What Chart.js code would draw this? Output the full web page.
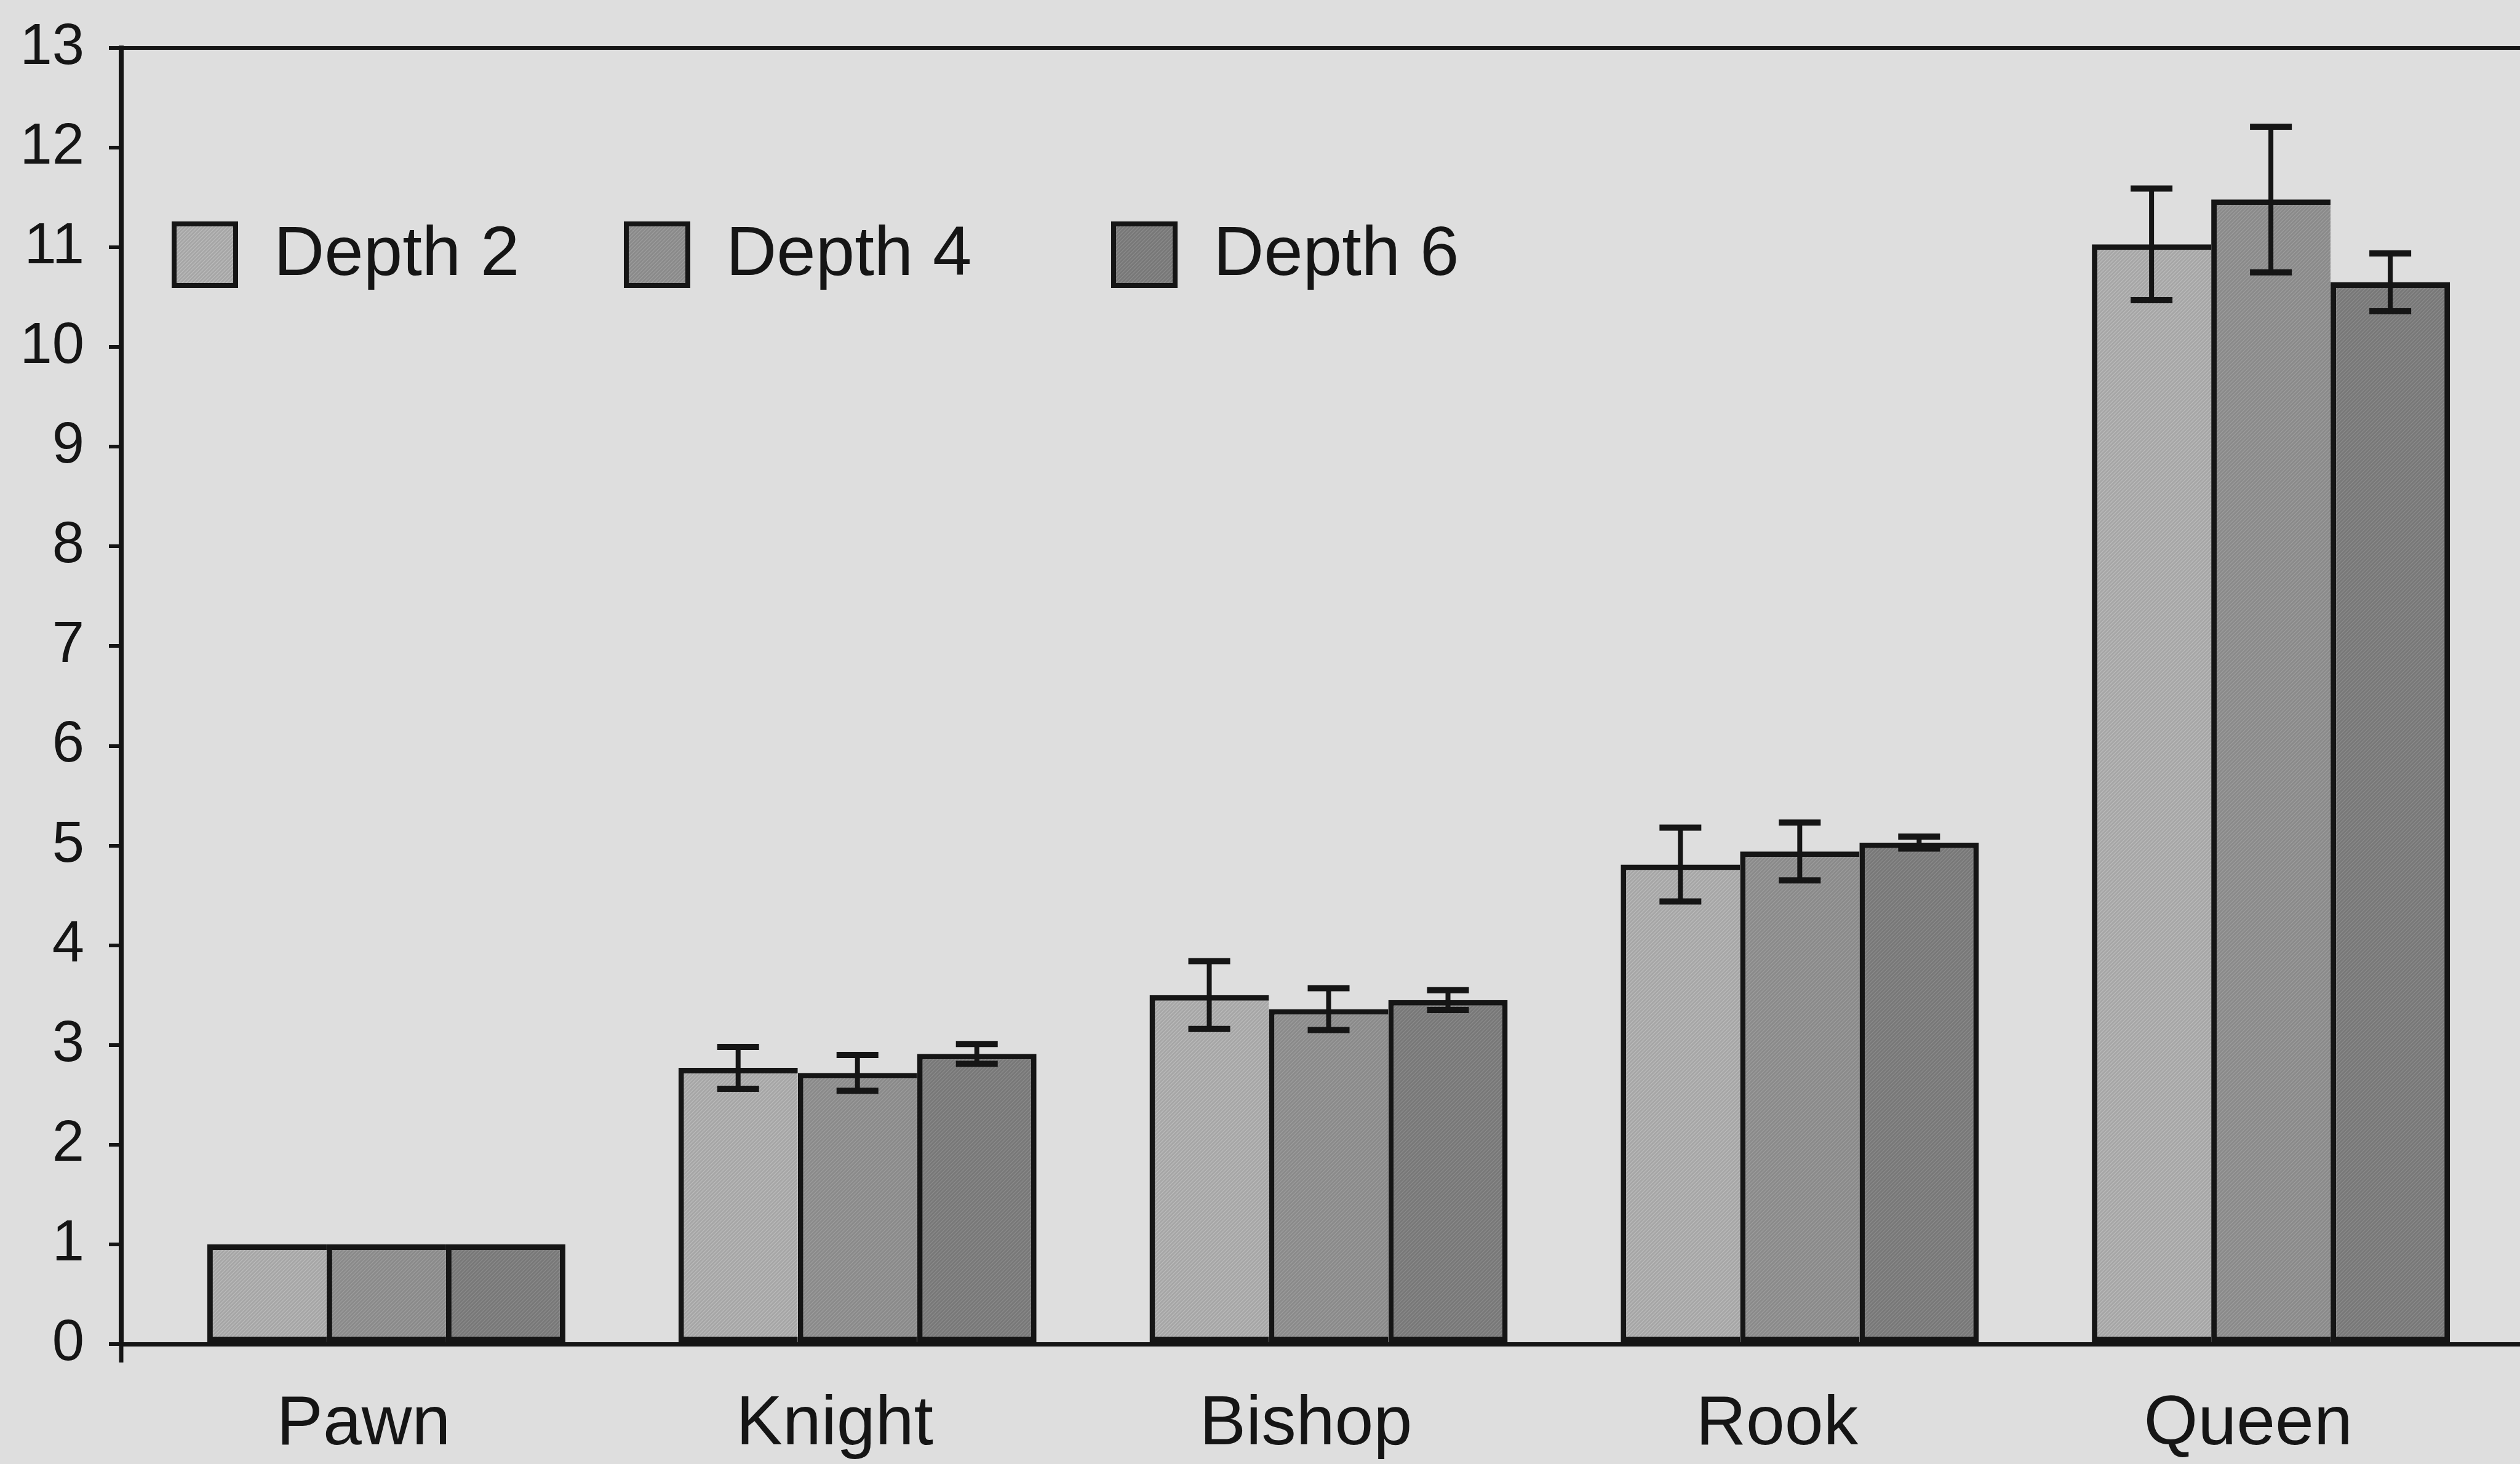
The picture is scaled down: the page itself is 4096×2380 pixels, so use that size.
<!DOCTYPE html>
<html>
<head>
<meta charset="utf-8">
<title>Piece values by search depth</title>
<script src="https://cdn.jsdelivr.net/npm/chart.js@4/dist/chart.umd.min.js"></script>
<style>
  html, body { margin: 0; padding: 0; background: #dedede; }
  #wrap { width: 4096px; height: 2380px; }
  canvas { display: block; }
</style>
</head>
<body>
<div id="wrap"><canvas id="chart" width="4096" height="2380"></canvas></div>
<script>
// Categories and series
const pieces = ['Pawn', 'Knight', 'Bishop', 'Rook', 'Queen'];
const seriesNames = ['Depth 2', 'Depth 4', 'Depth 6'];

// Mean learned value of each piece (pawn = 1)
const depth2 = [1, 2.77, 3.50, 4.81, 11.03];
const depth4 = [1, 2.72, 3.36, 4.94, 11.48];
const depth6 = [1, 2.91, 3.45, 5.03, 10.65];

// Half-width of the error bars
const depth2Err = [0, 0.21, 0.34, 0.37, 0.56];
const depth4Err = [0, 0.18, 0.21, 0.29, 0.73];
const depth6Err = [0, 0.10, 0.10, 0.06, 0.29];

// Value axis ticks
const yTicks = [0, 1, 2, 3, 4, 5, 6, 7, 8, 9, 10, 11, 12, 13];

const FONT = '"Liberation Sans", Arial, Helvetica, sans-serif';
const INK = '#151515';

// Fine diagonal hatch used as bar fill
function hatch(base, stripe) {
  const s = 6;
  const c = document.createElement('canvas');
  c.width = s; c.height = s;
  const g = c.getContext('2d');
  g.fillStyle = base;
  g.fillRect(0, 0, s, s);
  g.strokeStyle = stripe;
  g.lineWidth = 1.3;
  g.beginPath();
  g.moveTo(-1, s + 1); g.lineTo(s + 1, -1);
  g.moveTo(-1, 1); g.lineTo(1, -1);
  g.moveTo(s - 1, s + 1); g.lineTo(s + 1, s - 1);
  g.stroke();
  return g.createPattern(c, 'repeat');
}

const fills = [
  hatch('#a6a6a6', '#bbbbbb'),
  hatch('#8a8a8a', '#9d9d9d'),
  hatch('#787878', '#8b8b8b')
];
const seriesValues = [depth2, depth4, depth6];
const seriesErrors = [depth2Err, depth4Err, depth6Err];

// Error bars: stem plus caps, computed through the value scale
const errorBars = {
  id: 'errorBars',
  afterDatasetsDraw(chart, args, opts) {
    const ctx = chart.ctx;
    const y = chart.scales.y;
    ctx.save();
    ctx.strokeStyle = opts.color;
    ctx.lineWidth = opts.width;
    chart.data.datasets.forEach((ds, k) => {
      const meta = chart.getDatasetMeta(k);
      meta.data.forEach((bar, i) => {
        const e = ds.errors[i];
        if (!e) return;
        const v = ds.data[i].y;
        const top = y.getPixelForValue(v + e);
        const bot = y.getPixelForValue(v - e);
        const x = bar.x, h = opts.cap / 2;
        ctx.beginPath();
        ctx.moveTo(x, top); ctx.lineTo(x, bot);
        ctx.stroke();
        ctx.lineWidth = opts.capWidth;
        ctx.beginPath();
        ctx.moveTo(x - h, top); ctx.lineTo(x + h, top);
        ctx.moveTo(x - h, bot); ctx.lineTo(x + h, bot);
        ctx.stroke();
        ctx.lineWidth = opts.width;
      });
    });
    ctx.restore();
  }
};

// Top frame line and the short stub of the value axis below the baseline
const frame = {
  id: 'frame',
  afterDraw(chart, args, opts) {
    const { ctx, chartArea } = chart;
    ctx.save();
    ctx.strokeStyle = opts.color;
    ctx.lineWidth = opts.width;
    ctx.beginPath();
    ctx.moveTo(chartArea.left - opts.tick, chartArea.top);
    ctx.lineTo(chartArea.right, chartArea.top);
    ctx.stroke();
    ctx.lineWidth = opts.stubWidth;
    ctx.beginPath();
    ctx.moveTo(chartArea.left, chartArea.bottom);
    ctx.lineTo(chartArea.left, chartArea.bottom + opts.stub);
    ctx.stroke();
    ctx.restore();
  }
};

// Legend row inside the plot
const pieceLegend = {
  id: 'pieceLegend',
  afterDraw(chart, args, opts) {
    const ctx = chart.ctx;
    ctx.save();
    ctx.font = opts.fontSize + 'px ' + FONT;
    ctx.textBaseline = 'middle';
    ctx.textAlign = 'left';
    chart.data.datasets.forEach((ds, k) => {
      const x = opts.lefts[k];
      const top = opts.centerY - opts.box / 2;
      ctx.fillStyle = ds.backgroundColor;
      ctx.fillRect(x, top, opts.box, opts.box);
      ctx.strokeStyle = INK;
      ctx.lineWidth = opts.border;
      ctx.strokeRect(x + opts.border / 2, top + opts.border / 2,
                     opts.box - opts.border, opts.box - opts.border);
      ctx.fillStyle = INK;
      ctx.fillText(ds.label, x + opts.box + opts.gap, opts.centerY + 2);
    });
    ctx.restore();
  }
};

new Chart(document.getElementById('chart'), {
  type: 'bar',
  data: {
    datasets: seriesNames.map((name, k) => ({
      label: name,
      data: seriesValues[k].map((v, i) => ({ x: i, y: v })),
      errors: seriesErrors[k],
      backgroundColor: fills[k],
      borderColor: INK,
      borderWidth: k === seriesNames.length - 1 ? 9 : { top: 9, left: 9, bottom: 9, right: 0 },
      borderSkipped: false,
      categoryPercentage: 0.76,
      barPercentage: 1.0
    }))
  },
  options: {
    responsive: false,
    animation: false,
    devicePixelRatio: 1,
    layout: { padding: { top: 78, left: 0, right: 0, bottom: 0 } },
    plugins: {
      legend: { display: false },
      tooltip: { enabled: false },
      errorBars: { color: INK, width: 8, capWidth: 10, cap: 68 },
      frame: { color: INK, width: 6, tick: 20, stub: 30, stubWidth: 7 },
      pieceLegend: { lefts: [279, 1014, 1806], centerY: 414, box: 108, gap: 58, border: 8, fontSize: 114 }
    },
    scales: {
      x: {
        type: 'linear',
        min: -0.5627,
        max: 4.5287,
        offset: false,
        afterBuildTicks: s => { s.ticks = pieces.map((_, i) => ({ value: i })); },
        afterFit: s => { s.height = 195; s.paddingLeft = 0; s.paddingRight = 0; },
        grid: { display: false, drawTicks: false },
        border: { display: true, color: INK, width: 7 },
        ticks: {
          callback: v => pieces[v],
          autoSkip: false,
          maxRotation: 0,
          padding: 64,
          labelOffset: -37,
          color: INK,
          font: { family: FONT, size: 113 }
        }
      },
      y: {
        min: 0,
        max: 13,
        afterBuildTicks: s => { s.ticks = yTicks.map(v => ({ value: v })); },
        afterFit: s => { s.width = 197; s.paddingTop = 0; s.paddingBottom = 0; },
        grid: { drawOnChartArea: false, drawTicks: true, tickLength: 20, color: INK, lineWidth: 6 },
        border: { display: true, color: INK, width: 8 },
        ticks: {
          padding: 40,
          color: INK,
          font: { family: FONT, size: 94 }
        }
      }
    }
  },
  plugins: [errorBars, frame, pieceLegend]
});
</script>
</body>
</html>
